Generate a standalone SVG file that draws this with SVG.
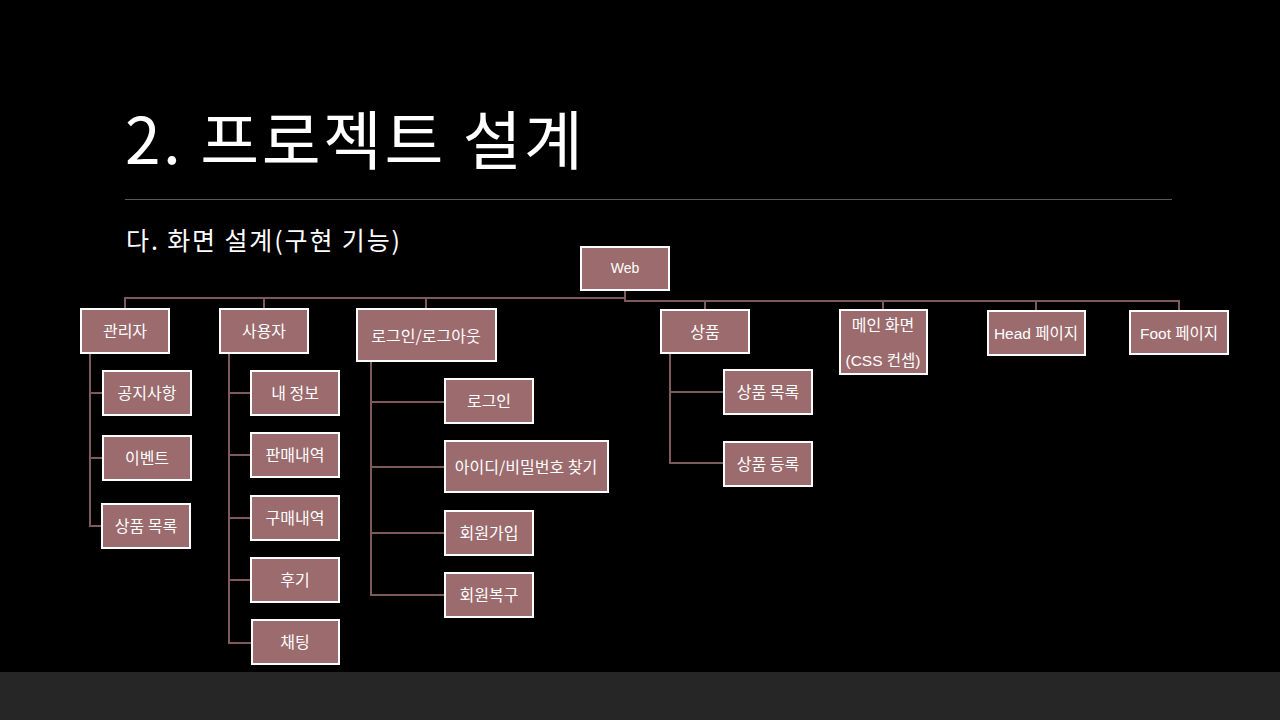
<svg xmlns="http://www.w3.org/2000/svg" width="1280" height="720" viewBox="0 0 1280 720">
<style>
.box{fill:#9b6b6d;stroke:#ffffff;stroke-width:2}
.lbl{font-family:"Noto Sans CJK KR","Noto Sans",sans-serif;font-size:16px;fill:#ffffff;text-anchor:middle}
.lat{font-family:"Liberation Sans","Noto Sans CJK KR",sans-serif;font-size:14px;fill:#ffffff;text-anchor:middle}
.big{font-size:15.5px}
.con{fill:none;stroke:#7d5a5c;stroke-width:2}
</style>
<rect x="0" y="0" width="1280" height="720" fill="#000000"/>
<rect x="0" y="672" width="1280" height="48" fill="#262626"/>
<text x="125" y="164" font-family="Noto Sans CJK KR, sans-serif" font-size="64" fill="#ffffff" textLength="458" lengthAdjust="spacing">2. 프로젝트 설계</text>
<line x1="125" y1="199.5" x2="1172" y2="199.5" stroke="#595959" stroke-width="1"/>
<text x="126" y="250" font-family="Noto Sans CJK KR, sans-serif" font-size="25" fill="#ffffff" textLength="274" lengthAdjust="spacing">다. 화면 설계(구현 기능)</text>

<g id="connectors" class="con">
<polyline points="625,290 625,299"/>
<polyline points="125,309 125,298 625,298"/>
<polyline points="625,299 625,301 1179,301 1179,310"/>
<line x1="264" y1="298" x2="264" y2="309"/>
<line x1="426" y1="298" x2="426" y2="309"/>
<line x1="705" y1="301" x2="705" y2="309"/>
<line x1="883" y1="301" x2="883" y2="309"/>
<line x1="1036" y1="301" x2="1036" y2="310"/>
<polyline points="90,353 90,526 102,526"/>
<line x1="90" y1="393" x2="103" y2="393"/>
<line x1="90" y1="458" x2="103" y2="458"/>
<polyline points="229,353 229,643 252,643"/>
<line x1="229" y1="393" x2="251" y2="393"/>
<line x1="229" y1="455" x2="251" y2="455"/>
<line x1="229" y1="518" x2="251" y2="518"/>
<line x1="229" y1="580" x2="251" y2="580"/>
<polyline points="371,361 371,595 445,595"/>
<line x1="371" y1="402" x2="445" y2="402"/>
<line x1="371" y1="467" x2="445" y2="467"/>
<line x1="371" y1="533" x2="445" y2="533"/>
<polyline points="670,353 670,463 723,463"/>
<line x1="670" y1="392" x2="723" y2="392"/>
</g>

<g id="web"><rect class="box" x="581" y="247" width="88" height="43"/><text class="lat" x="625" y="273">Web</text></g>
<g id="admin"><rect class="box" x="81" y="309" width="88" height="44"/><text class="lbl" x="125" y="337">관리자</text></g>
<g id="user"><rect class="box" x="220" y="309" width="88" height="44"/><text class="lbl" x="264" y="337">사용자</text></g>
<g id="login-logout"><rect class="box" x="357" y="309" width="139" height="52"/><text class="lbl" x="426" y="342">로그인/로그아웃</text></g>
<g id="product"><rect class="box" x="661" y="310" width="88" height="43"/><text class="lbl" x="705" y="338">상품</text></g>
<g id="main"><rect class="box" x="840" y="310" width="87" height="64"/><text class="lbl" x="883" y="331">메인 화면</text><text class="lat big" x="883" y="366">(CSS 컨셉)</text></g>
<g id="head"><rect class="box" x="988" y="311" width="97" height="44"/><text class="lat big" x="1036" y="339">Head 페이지</text></g>
<g id="foot"><rect class="box" x="1130" y="311" width="98" height="43"/><text class="lat big" x="1179" y="339">Foot 페이지</text></g>

<g id="notice"><rect class="box" x="103" y="371" width="88" height="44"/><text class="lbl" x="147" y="399">공지사항</text></g>
<g id="event"><rect class="box" x="103" y="436" width="88" height="44"/><text class="lbl" x="147" y="464">이벤트</text></g>
<g id="admin-products"><rect class="box" x="102" y="504" width="88" height="44"/><text class="lbl" x="146" y="532">상품 목록</text></g>

<g id="myinfo"><rect class="box" x="251" y="371" width="88" height="44"/><text class="lbl" x="295" y="399">내 정보</text></g>
<g id="sales"><rect class="box" x="251" y="433" width="88" height="44"/><text class="lbl" x="295" y="461">판매내역</text></g>
<g id="purchases"><rect class="box" x="251" y="496" width="88" height="44"/><text class="lbl" x="295" y="524">구매내역</text></g>
<g id="review"><rect class="box" x="251" y="558" width="88" height="44"/><text class="lbl" x="295" y="586">후기</text></g>
<g id="chat"><rect class="box" x="252" y="620" width="87" height="44"/><text class="lbl" x="295" y="648">채팅</text></g>

<g id="login"><rect class="box" x="445" y="379" width="88" height="44"/><text class="lbl" x="489" y="407">로그인</text></g>
<g id="find"><rect class="box" x="445" y="441" width="163" height="51"/><text class="lbl" x="526" y="473">아이디/비밀번호 찾기</text></g>
<g id="signup"><rect class="box" x="445" y="511" width="88" height="44"/><text class="lbl" x="489" y="539">회원가입</text></g>
<g id="restore"><rect class="box" x="445" y="573" width="88" height="44"/><text class="lbl" x="489" y="601">회원복구</text></g>

<g id="product-list"><rect class="box" x="724" y="370" width="88" height="44"/><text class="lbl" x="768" y="398">상품 목록</text></g>
<g id="product-register"><rect class="box" x="724" y="442" width="88" height="44"/><text class="lbl" x="768" y="470">상품 등록</text></g>
</svg>
